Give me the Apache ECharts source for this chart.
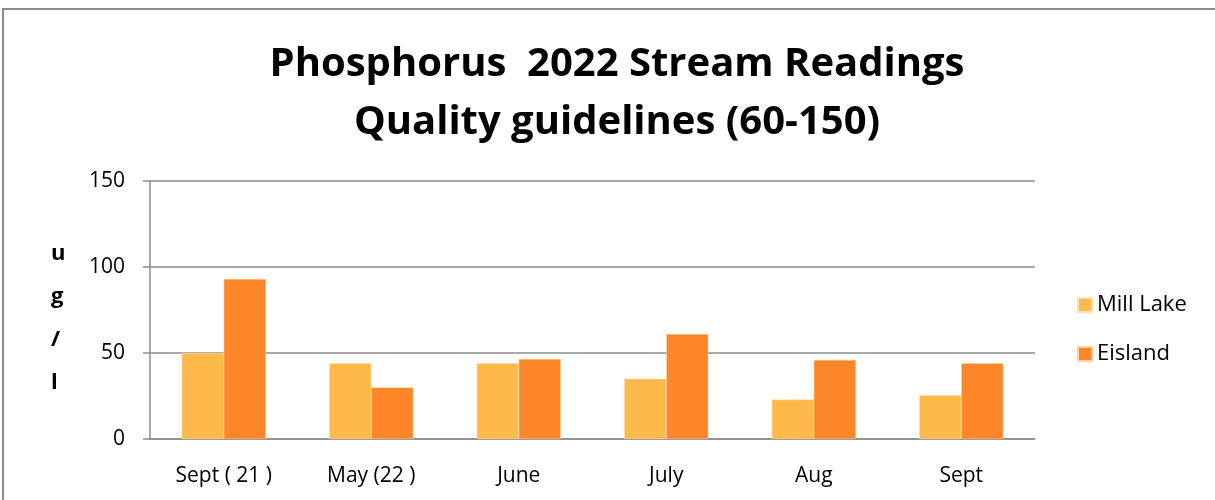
<!DOCTYPE html>
<html lang="en">
<head>
    <meta charset="UTF-8">
    <title>Phosphorus 2022 Stream Readings</title>
    <script src="https://cdn.jsdelivr.net/npm/echarts@6/dist/echarts.min.js"></script>
    <style>
        body { margin: 0; background: #fff; }
        #frame {
            position: absolute;
            left: 2px; top: 8px;
            width: 1240px; height: 520px;
            border-top: 2px solid #8c8c8c;
            border-left: 2px solid #8c8c8c;
        }
        #chart { position: absolute; left: 0; top: 0; width: 1215px; height: 500px; }
    </style>
</head>
<body>
    <div id="frame"></div>
    <div id="chart"></div>
    <script>
        // data
        const months = ['Sept ( 21 )', 'May (22 )', 'June', 'July', 'Aug', 'Sept'];
        const millLake = [50, 44, 44, 35, 23, 25.5];
        const eisland = [93, 30, 46.5, 61, 46, 44];
        const yTicks = [0, 50, 100, 150];

        const font = '"Open Sans", "DejaVu Sans", sans-serif';
        const gray = '#8c8c8c';

        const chart = echarts.init(document.getElementById('chart'));
        chart.setOption({
            animation: false,
            title: {
                text: 'Phosphorus  2022 Stream Readings\nQuality guidelines (60-150)',
                left: 612, top: 31, textAlign: 'center',
                textStyle: { fontFamily: font, fontWeight: 'bold', fontSize: 40, lineHeight: 58, color: '#000' }
            },
            legend: {
                orient: 'vertical',
                left: 1072, top: 289,
                itemWidth: 14, itemHeight: 14, itemGap: 27,
                icon: 'rect',
                textStyle: { fontFamily: font, fontSize: 22, color: '#000' },
                data: ['Mill Lake', 'Eisland']
            },
            grid: { left: 150, right: 180, top: 181, bottom: 61 },
            xAxis: {
                type: 'category',
                data: months,
                axisLine: { lineStyle: { color: gray, width: 1.5 } },
                axisTick: { length: 8, lineStyle: { color: gray, width: 1.5 } },
                axisLabel: { fontFamily: font, fontSize: 21, color: '#000', margin: 27 }
            },
            yAxis: {
                type: 'value',
                min: yTicks[0], max: yTicks[yTicks.length - 1], interval: 50,
                axisLine: { show: true, lineStyle: { color: gray, width: 1.5 } },
                axisTick: { show: true, length: 7, lineStyle: { color: gray, width: 1.5 } },
                axisLabel: { fontFamily: font, fontSize: 21, color: '#000', margin: 25 },
                splitLine: { lineStyle: { color: gray, width: 1.5 } }
            },
            graphic: [{
                type: 'text',
                left: 51, top: 232,
                style: {
                    text: 'u\ng\n/\nl',
                    fontFamily: font, fontWeight: 'bold', fontSize: 22,
                    lineHeight: 43, align: 'center', fill: '#000'
                }
            }],
            series: [{
                name: 'Mill Lake',
                type: 'bar',
                data: millLake,
                barGap: '0%',
                barCategoryGap: '43%',
                itemStyle: { color: '#fdb94a', borderColor: '#ffe0b0', borderWidth: 0.5 }
            }, {
                name: 'Eisland',
                type: 'bar',
                data: eisland,
                itemStyle: { color: '#fd8628', borderColor: '#ffd0a8', borderWidth: 0.5 }
            }]
        });
    </script>
</body>
</html>
